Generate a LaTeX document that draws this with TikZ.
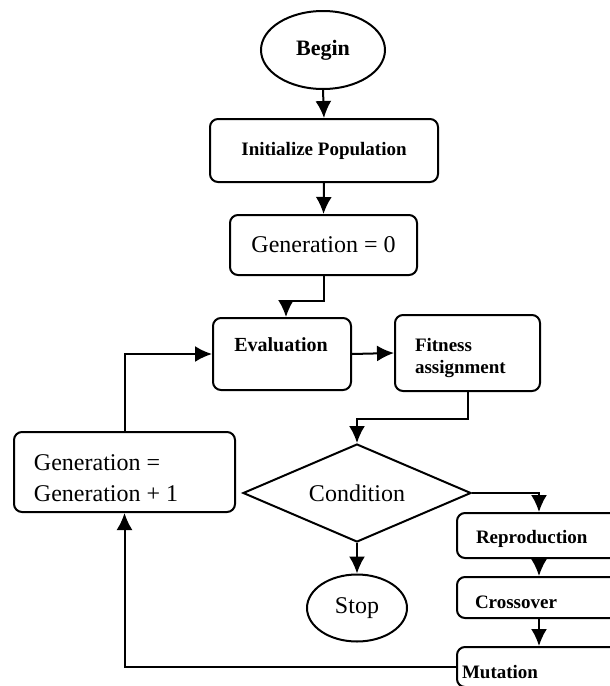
\documentclass[tikz,border=0pt]{standalone}
\usepackage{fontspec}
\setmainfont{Liberation Serif}
\usetikzlibrary{shapes.geometric,arrows.meta}
\begin{document}
\begin{tikzpicture}[x=1pt,y=-1pt,
  line width=2pt,
  box/.style={draw,rounded corners=8pt,inner sep=0pt},
  oval/.style={draw,ellipse,inner sep=0pt},
  big/.style={font=\fontsize{24}{28}\selectfont},
  small/.style={font=\fontsize{19}{23}\selectfont\bfseries},
  txt/.style={inner sep=0pt,anchor=west,align=left},
  arr/.style={-{Latex[length=17pt,width=16pt]}}]
\clip (0,0) rectangle (610,686);
\fill[white] (0,0) rectangle (610,686);
% nodes
\node[oval,minimum width=124,minimum height=78,font=\fontsize{22}{26}\selectfont\bfseries] (begin) at (323,50) {Begin};
\node[box,minimum width=228,minimum height=63,small] (init) at (324,150.5) {Initialize Population};
\node[box,minimum width=187,minimum height=60,big] (gen0) at (323.5,245) {Generation = 0};
\node[box,minimum width=138,minimum height=72] (eval) at (282,354) {};
\node[font=\fontsize{20}{24}\selectfont\bfseries,inner sep=0pt] (evalT) at (281,345) {Evaluation};
\node[box,minimum width=145,minimum height=76] (fit) at (467.5,353) {};
\node[small,txt] (fitT1) at (414,345) {Fitness};
\node[small,txt] (fitT2) at (414,369) {assignment};
\node[draw,diamond,aspect=2.33,minimum width=228,minimum height=98,inner sep=0pt,big] (cond) at (357,493) {Condition};
\node[box,minimum width=221,minimum height=80] (genp) at (124.5,472) {};
\node[big,txt] (genpT1) at (33,463) {Generation =};
\node[big,txt] (genpT2) at (33,494) {Generation + 1};
\node[box,minimum width=164,minimum height=45] (repro) at (539,535.5) {};
\node[small,txt] (reproT) at (475,539) {Reproduction};
\node[box,minimum width=164,minimum height=41] (cross) at (539,597.5) {};
\node[small,txt] (crossT) at (474,602) {Crossover};
\node[box,minimum width=164,minimum height=40] (mut) at (539,667) {};
\node[small,txt] (mutT) at (461,672) {Mutation};
\node[oval,minimum width=100,minimum height=67,big] (stop) at (357,608) {Stop};
% connectors
\draw[arr] (begin.south) -- (init.north);
\draw[arr] (init.south) -- (gen0.north);
\draw[arr] (gen0.south) -- ++(0,25) -| ([xshift=4pt]eval.north);
\draw[arr] (genp.north) |- (eval.west);
\draw[arr] (eval.east) -- (fit.west);
\draw[arr] (fit.south) -- ++(0,27) -| (cond.north);
\draw[arr] (cond.east) -| (repro.north);
\draw[arr] (repro.south) -- (cross.north);
\draw[arr] (cross.south) -- (mut.north);
\draw[arr] (mut.west) -| (genp.south);
\draw[arr] (cond.south) -- (stop.north);
\end{tikzpicture}
\end{document}
